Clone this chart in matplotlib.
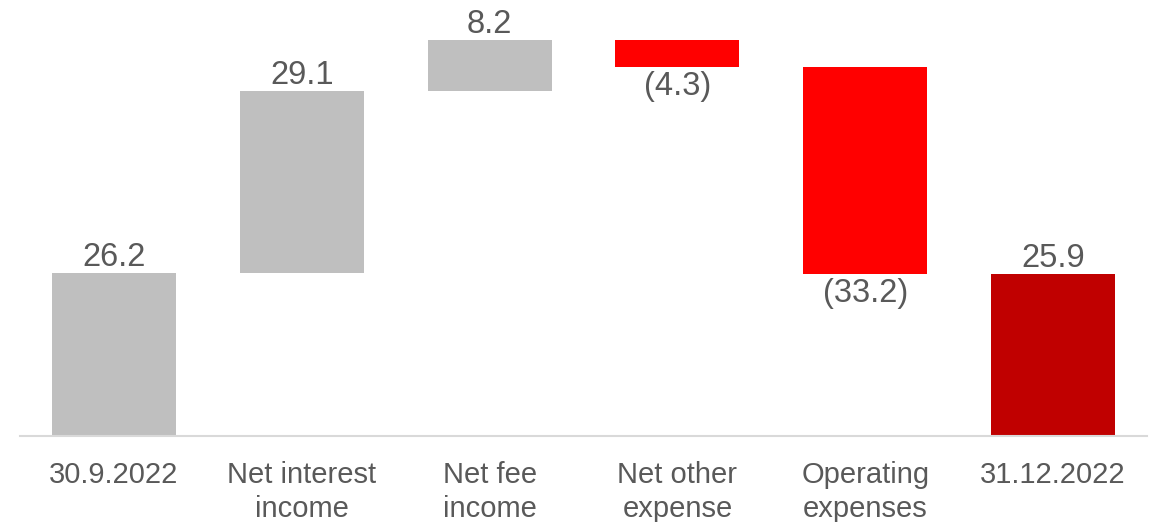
import matplotlib.pyplot as plt
import numpy as np

plt.rcParams['font.family'] = ['Liberation Sans', 'DejaVu Sans']

# data
categories = ["30.9.2022", "Net interest\nincome", "Net fee\nincome",
              "Net other\nexpense", "Operating\nexpenses", "31.12.2022"]
start_value = 26.2
changes = [29.1, 8.2, -4.3, -33.2]
end_value = 25.9

grey = "#BFBFBF"
red = "#FF0000"
dark_red = "#C00000"
text_col = "#595959"

# waterfall bottoms / heights
running = start_value
bottoms = [0]
heights = [start_value]
colors = [grey]
for ch in changes:
    if ch >= 0:
        bottoms.append(running)
        heights.append(ch)
        colors.append(grey)
    else:
        bottoms.append(running + ch)
        heights.append(-ch)
        colors.append(red)
    running += ch
bottoms.append(0)
heights.append(end_value)
colors.append(dark_red)

values = [start_value] + changes + [end_value]

fig = plt.figure(figsize=(11.55, 5.22), dpi=100)
ax = fig.add_axes([20 / 1155, 86 / 522, 1127 / 1155, 70 * 6.24 / 522])

x = np.arange(len(categories))
ax.bar(x, heights, bottom=bottoms, width=0.66, color=colors, zorder=2)

for i, v in enumerate(values):
    if v >= 0:
        ax.annotate("%.1f" % v, (x[i], bottoms[i] + heights[i]),
                    xytext=(0, 0), textcoords="offset points",
                    ha="center", va="bottom", fontsize=23.5, color=text_col)
    else:
        ax.annotate("(%.1f)" % -v, (x[i], bottoms[i]),
                    xytext=(0, -3), textcoords="offset points",
                    ha="center", va="top", fontsize=23.5, color=text_col)

ax.set_xlim(-0.5, 5.5)
ax.set_ylim(0, 70)
ax.set_xticks(x)
ax.set_xticklabels(categories, fontsize=21, color=text_col, linespacing=1.28)
ax.tick_params(axis="x", length=0, pad=18)
ax.set_yticks([])
for s in ["top", "right", "left"]:
    ax.spines[s].set_visible(False)
ax.spines["bottom"].set_color("#D9D9D9")
ax.spines["bottom"].set_linewidth(1.5)

fig.savefig("out.png", dpi=100)
